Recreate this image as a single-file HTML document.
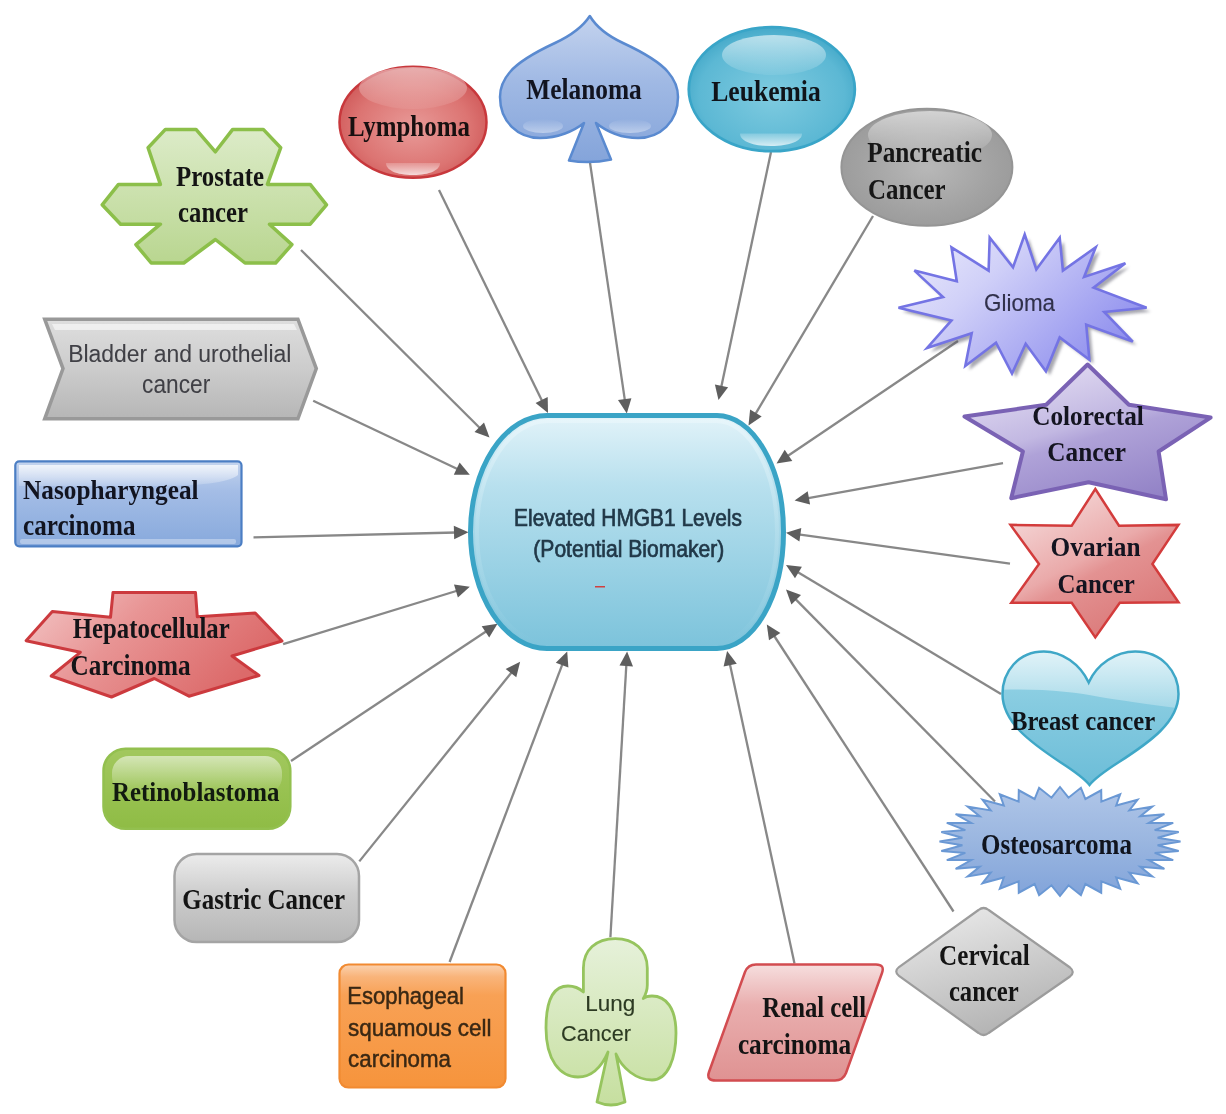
<!DOCTYPE html>
<html><head><meta charset="utf-8"><style>
html,body{margin:0;padding:0;background:#fff;}
svg{display:block;filter:blur(0.7px);}
</style></head><body>
<svg width="1226" height="1114" viewBox="0 0 1226 1114">
<defs><linearGradient id="gCenter" x1="0" y1="0" x2="0" y2="1"><stop offset="0" stop-color="#e2f3f9"/><stop offset="0.3" stop-color="#b8e0ee"/><stop offset="1" stop-color="#7cc3db"/></linearGradient>
<linearGradient id="gCRing" x1="0" y1="0" x2="0" y2="1"><stop offset="0" stop-color="#e8f6fb" stop-opacity="0.8"/><stop offset="0.5" stop-color="#c4e6f1" stop-opacity="0.35"/><stop offset="1" stop-color="#c4e6f1" stop-opacity="0.0"/></linearGradient>
<linearGradient id="gPros" x1="0" y1="0" x2="0" y2="1"><stop offset="0" stop-color="#dcebc8"/><stop offset="1" stop-color="#b9d690"/></linearGradient>
<radialGradient id="gLym" cx="0.5" cy="0.55" r="0.55"><stop offset="0" stop-color="#e89a98"/><stop offset="0.7" stop-color="#dc7472"/><stop offset="1" stop-color="#d05a5a"/></radialGradient>
<linearGradient id="gHiW" x1="0" y1="0" x2="0" y2="1"><stop offset="0" stop-color="#ffffff" stop-opacity="0.85"/><stop offset="1" stop-color="#ffffff" stop-opacity="0.1"/></linearGradient>
<linearGradient id="gLymB" x1="0" y1="0" x2="0" y2="1"><stop offset="0" stop-color="#ffffff" stop-opacity="0.2"/><stop offset="1" stop-color="#ffffff" stop-opacity="0.75"/></linearGradient>
<linearGradient id="gMel" x1="0" y1="0" x2="0" y2="1"><stop offset="0" stop-color="#c4d3ee"/><stop offset="0.45" stop-color="#a0b9e4"/><stop offset="1" stop-color="#84a4da"/></linearGradient>
<linearGradient id="gMelHi" x1="0" y1="0" x2="0" y2="1"><stop offset="0" stop-color="#ffffff" stop-opacity="0.0"/><stop offset="1" stop-color="#ffffff" stop-opacity="0.4"/></linearGradient>
<radialGradient id="gLeu" cx="0.5" cy="0.55" r="0.55"><stop offset="0" stop-color="#7fcbe0"/><stop offset="0.8" stop-color="#5cb8d4"/><stop offset="1" stop-color="#45a9c9"/></radialGradient>
<radialGradient id="gPan" cx="0.5" cy="0.5" r="0.55"><stop offset="0" stop-color="#b8b8b8"/><stop offset="0.7" stop-color="#a2a2a2"/><stop offset="1" stop-color="#9a9a9a"/></radialGradient>
<linearGradient id="gPanHi" x1="0" y1="0" x2="0" y2="1"><stop offset="0" stop-color="#ffffff" stop-opacity="0.55"/><stop offset="1" stop-color="#ffffff" stop-opacity="0"/></linearGradient>
<linearGradient id="gGli" x1="0" y1="0" x2="1" y2="0.6"><stop offset="0" stop-color="#eeeefc"/><stop offset="0.4" stop-color="#d0d0f8"/><stop offset="1" stop-color="#9090ee"/></linearGradient>
<filter id="fSh" x="-10%" y="-10%" width="120%" height="120%"><feGaussianBlur stdDeviation="1.6"/></filter>
<linearGradient id="gCol" x1="0.2" y1="0" x2="0.75" y2="1"><stop offset="0" stop-color="#e6e0f4"/><stop offset="0.45" stop-color="#c2b8e2"/><stop offset="0.55" stop-color="#afa2d8"/><stop offset="1" stop-color="#9282c6"/></linearGradient>
<linearGradient id="gOva" x1="0.2" y1="0" x2="0.8" y2="1"><stop offset="0" stop-color="#f6dcdc"/><stop offset="0.45" stop-color="#eaaaaa"/><stop offset="0.55" stop-color="#e39292"/><stop offset="1" stop-color="#d97474"/></linearGradient>
<linearGradient id="gBre" x1="0" y1="0" x2="0" y2="1"><stop offset="0" stop-color="#9ad6e8"/><stop offset="0.4" stop-color="#86cbe0"/><stop offset="1" stop-color="#6cbdd8"/></linearGradient>
<clipPath id="cHeart"><path d="M1088.7,682.5 C1080,664 1062,651.5 1043.8,651.5 C1018,651.5 1002.5,672 1002.5,694 C1002.5,722 1030,742 1060,762 C1074,771 1084,778 1089.5,785 C1095,778 1105,771 1119,762 C1150,742 1178.5,722 1178.5,694 C1178.5,672 1162,651.5 1135.2,651.5 C1116,651.5 1097,664 1088.7,682.5 Z"/></clipPath>
<linearGradient id="gBreHi" x1="0" y1="0" x2="0" y2="1"><stop offset="0" stop-color="#ffffff" stop-opacity="0.75"/><stop offset="1" stop-color="#ffffff" stop-opacity="0.25"/></linearGradient>
<linearGradient id="gOst" x1="0" y1="0" x2="0" y2="1"><stop offset="0" stop-color="#b0c6e8"/><stop offset="0.5" stop-color="#9ab6e0"/><stop offset="1" stop-color="#82a4da"/></linearGradient>
<linearGradient id="gCer" x1="0.3" y1="0" x2="0.7" y2="1"><stop offset="0" stop-color="#e8e8e8"/><stop offset="1" stop-color="#b0b0b0"/></linearGradient>
<linearGradient id="gRen" x1="0" y1="0" x2="0" y2="1"><stop offset="0" stop-color="#f6dede"/><stop offset="0.35" stop-color="#e9aeae"/><stop offset="1" stop-color="#df9292"/></linearGradient>
<linearGradient id="gLun" x1="0" y1="0" x2="0" y2="1"><stop offset="0" stop-color="#e6f1da"/><stop offset="1" stop-color="#c6df9f"/></linearGradient>
<linearGradient id="gEso" x1="0" y1="0" x2="0" y2="1"><stop offset="0" stop-color="#fbd2b0"/><stop offset="0.1" stop-color="#f9b47a"/><stop offset="0.25" stop-color="#f8a155"/><stop offset="1" stop-color="#f6943c"/></linearGradient>
<linearGradient id="gGas" x1="0" y1="0" x2="0" y2="1"><stop offset="0" stop-color="#ececec"/><stop offset="0.45" stop-color="#cdcdcd"/><stop offset="1" stop-color="#b6b6b6"/></linearGradient>
<linearGradient id="gRet" x1="0" y1="0" x2="0" y2="1"><stop offset="0" stop-color="#a2c85e"/><stop offset="1" stop-color="#8fbc45"/></linearGradient>
<linearGradient id="gRetHi" x1="0" y1="0" x2="0" y2="1"><stop offset="0" stop-color="#ffffff" stop-opacity="0.55"/><stop offset="1" stop-color="#ffffff" stop-opacity="0.0"/></linearGradient>
<linearGradient id="gHep" x1="0" y1="0" x2="1" y2="0.4"><stop offset="0" stop-color="#f3c8c8"/><stop offset="0.45" stop-color="#e89494"/><stop offset="1" stop-color="#dc6a6a"/></linearGradient>
<linearGradient id="gNas" x1="0" y1="0" x2="0" y2="1"><stop offset="0" stop-color="#c4d4ee"/><stop offset="0.35" stop-color="#a4bde6"/><stop offset="1" stop-color="#87a9dc"/></linearGradient>
<linearGradient id="gNasHi" x1="0" y1="0" x2="0" y2="1"><stop offset="0" stop-color="#ffffff" stop-opacity="0.75"/><stop offset="1" stop-color="#ffffff" stop-opacity="0.15"/></linearGradient>
<linearGradient id="gBla" x1="0" y1="0" x2="0" y2="1"><stop offset="0" stop-color="#dedede"/><stop offset="0.5" stop-color="#cccccc"/><stop offset="1" stop-color="#b6b6b6"/></linearGradient></defs>
<rect width="1226" height="1114" fill="#ffffff"/>
<line x1="301.0" y1="250.0" x2="480.6" y2="428.7" stroke="#888888" stroke-width="2.3"/>
<polygon points="489.5,437.5 474.5,432.1 484.0,422.5" fill="#5e5e5e"/>
<line x1="439.0" y1="190.0" x2="542.5" y2="401.8" stroke="#888888" stroke-width="2.3"/>
<polygon points="548.0,413.0 535.6,402.9 547.7,397.0" fill="#5e5e5e"/>
<line x1="589.6" y1="160.0" x2="625.0" y2="401.1" stroke="#888888" stroke-width="2.3"/>
<polygon points="626.8,413.5 618.0,400.1 631.4,398.2" fill="#5e5e5e"/>
<line x1="771.0" y1="152.0" x2="721.1" y2="387.8" stroke="#888888" stroke-width="2.3"/>
<polygon points="718.5,400.0 714.9,384.4 728.1,387.2" fill="#5e5e5e"/>
<line x1="873.0" y1="216.0" x2="754.9" y2="414.8" stroke="#888888" stroke-width="2.3"/>
<polygon points="748.5,425.5 750.1,409.6 761.7,416.5" fill="#5e5e5e"/>
<line x1="958.0" y1="341.0" x2="786.9" y2="456.5" stroke="#888888" stroke-width="2.3"/>
<polygon points="776.5,463.5 784.7,449.8 792.3,461.0" fill="#5e5e5e"/>
<line x1="1003.0" y1="463.2" x2="806.9" y2="498.3" stroke="#888888" stroke-width="2.3"/>
<polygon points="794.6,500.5 807.7,491.3 810.1,504.6" fill="#5e5e5e"/>
<line x1="1010.0" y1="563.7" x2="798.4" y2="534.4" stroke="#888888" stroke-width="2.3"/>
<polygon points="786.0,532.7 801.3,528.0 799.4,541.4" fill="#5e5e5e"/>
<line x1="1001.0" y1="694.0" x2="796.7" y2="571.4" stroke="#888888" stroke-width="2.3"/>
<polygon points="786.0,565.0 801.9,566.7 795.0,578.2" fill="#5e5e5e"/>
<line x1="995.0" y1="801.5" x2="794.8" y2="598.4" stroke="#888888" stroke-width="2.3"/>
<polygon points="786.0,589.5 801.0,595.1 791.4,604.6" fill="#5e5e5e"/>
<line x1="953.5" y1="911.5" x2="773.6" y2="635.0" stroke="#888888" stroke-width="2.3"/>
<polygon points="766.8,624.5 780.4,633.0 769.0,640.3" fill="#5e5e5e"/>
<line x1="794.5" y1="963.6" x2="729.7" y2="663.2" stroke="#888888" stroke-width="2.3"/>
<polygon points="727.1,651.0 736.8,663.8 723.6,666.6" fill="#5e5e5e"/>
<line x1="610.4" y1="937.2" x2="626.4" y2="664.0" stroke="#888888" stroke-width="2.3"/>
<polygon points="627.1,651.5 633.0,666.4 619.5,665.6" fill="#5e5e5e"/>
<line x1="449.6" y1="962.0" x2="562.8" y2="663.2" stroke="#888888" stroke-width="2.3"/>
<polygon points="567.2,651.5 568.4,667.5 555.8,662.7" fill="#5e5e5e"/>
<line x1="359.3" y1="861.4" x2="512.3" y2="671.5" stroke="#888888" stroke-width="2.3"/>
<polygon points="520.1,661.8 516.3,677.3 505.7,668.9" fill="#5e5e5e"/>
<line x1="291.0" y1="761.0" x2="487.1" y2="630.7" stroke="#888888" stroke-width="2.3"/>
<polygon points="497.5,623.8 489.2,637.4 481.7,626.2" fill="#5e5e5e"/>
<line x1="283.1" y1="644.2" x2="457.9" y2="590.5" stroke="#888888" stroke-width="2.3"/>
<polygon points="469.8,586.8 457.9,597.5 454.0,584.6" fill="#5e5e5e"/>
<line x1="253.5" y1="537.4" x2="456.0" y2="532.5" stroke="#888888" stroke-width="2.3"/>
<polygon points="468.5,532.2 454.2,539.3 453.8,525.8" fill="#5e5e5e"/>
<line x1="313.2" y1="400.7" x2="458.5" y2="469.5" stroke="#888888" stroke-width="2.3"/>
<polygon points="469.8,474.8 453.8,474.7 459.6,462.5" fill="#5e5e5e"/>
<path d="M547,415.5 L717,415.5 A66.5,116.5 0 0 1 717,648.5 L547,648.5 A76.5,116.5 0 0 1 547,415.5 Z" fill="url(#gCenter)" stroke="#3aa4c6" stroke-width="5"/>
<path d="M548,421 L716,421 A61,111 0 0 1 716,643 L548,643 A71,111 0 0 1 548,421 Z" fill="none" stroke="url(#gCRing)" stroke-width="4"/>
<text x="514.1" y="526.2" style="font-family:'Liberation Sans', sans-serif;font-weight:normal;font-size:23.69px" fill="#213848" stroke="#213848" stroke-width="0.7" textLength="227.8" lengthAdjust="spacingAndGlyphs">Elevated HMGB1 Levels</text>
<text x="533.3" y="556.7" style="font-family:'Liberation Sans', sans-serif;font-weight:normal;font-size:23.69px" fill="#213848" stroke="#213848" stroke-width="0.7" textLength="191.1" lengthAdjust="spacingAndGlyphs">(Potential Biomaker)</text>
<rect x="595" y="586" width="10" height="1.5" fill="#d04040"/>
<polygon points="165.4,129.4 196.0,129.4 215.4,151.8 232.7,129.4 263.3,129.4 280.7,147.7 267.4,184.4 310.2,184.4 326.5,204.8 310.2,224.2 269.4,224.2 291.9,244.6 275.6,263.0 245.0,263.0 215.4,239.5 183.8,263.0 151.2,263.0 135.9,244.6 160.4,224.2 120.6,224.2 102.2,204.8 118.5,184.4 160.4,184.4 148.1,147.7" fill="url(#gPros)" stroke="#8cbf4a" stroke-width="3.5" stroke-linejoin="round"/>
<text x="176.0" y="185.5" style="font-family:'Liberation Serif', serif;font-weight:bold;font-size:29.77px" fill="#141414" stroke="#141414" stroke-width="0.0" textLength="88.0" lengthAdjust="spacingAndGlyphs">Prostate</text>
<text x="178.1" y="222.0" style="font-family:'Liberation Serif', serif;font-weight:bold;font-size:29.59px" fill="#141414" stroke="#141414" stroke-width="0.0" textLength="69.9" lengthAdjust="spacingAndGlyphs">cancer</text>
<ellipse cx="413" cy="122.2" rx="73.5" ry="55.5" fill="url(#gLym)" stroke="#c8383c" stroke-width="2.5"/>
<ellipse cx="413" cy="88" rx="54" ry="21" fill="url(#gHiW)" opacity="0.6"/>
<path d="M386,163 L440,163 C440,170 430,175 413,175 C396,175 386,170 386,163 Z" fill="url(#gLymB)"/>
<text x="348.0" y="135.6" style="font-family:'Liberation Serif', serif;font-weight:bold;font-size:29.31px" fill="#181010" stroke="#181010" stroke-width="0.0" textLength="121.9" lengthAdjust="spacingAndGlyphs">Lymphoma</text>
<path d="M589.8,16 C582,28 570,36 555,43 C540,50 520,60 510,72 C503,80 500,88 500,97 C500,122 518,138 540,138 C558,138 574,131 584,123 L569,160.5 Q590,164 611,159.5 L596,123 C606,131 620,138 638,138 C660,138 678,122 678,97 C678,88 675,80 668,72 C658,60 638,50 623,43 C608,36 597,28 589.8,16 Z" fill="url(#gMel)" stroke="#5a8ad0" stroke-width="2.5" stroke-linejoin="round"/>
<ellipse cx="543" cy="126" rx="20" ry="7" fill="url(#gMelHi)"/>
<ellipse cx="630" cy="126" rx="21" ry="7" fill="url(#gMelHi)"/>
<text x="526.2" y="98.9" style="font-family:'Liberation Serif', serif;font-weight:bold;font-size:28.70px" fill="#121420" stroke="#121420" stroke-width="0.0" textLength="115.6" lengthAdjust="spacingAndGlyphs">Melanoma</text>
<ellipse cx="771.8" cy="89.2" rx="83" ry="62" fill="url(#gLeu)" stroke="#39a5c8" stroke-width="2.8"/>
<ellipse cx="774" cy="55" rx="52" ry="20" fill="url(#gHiW)" opacity="0.7"/>
<path d="M740,133.5 L802,133.5 C802,141 790,146 771,146 C752,146 740,141 740,133.5 Z" fill="url(#gLymB)"/>
<text x="711.2" y="101.0" style="font-family:'Liberation Serif', serif;font-weight:bold;font-size:28.70px" fill="#10141a" stroke="#10141a" stroke-width="0.0" textLength="109.6" lengthAdjust="spacingAndGlyphs">Leukemia</text>
<ellipse cx="926.9" cy="167.2" rx="85.5" ry="58.5" fill="url(#gPan)" stroke="#959595" stroke-width="2"/>
<ellipse cx="930" cy="135" rx="62" ry="24" fill="url(#gPanHi)"/>
<text x="867.2" y="162.0" style="font-family:'Liberation Serif', serif;font-weight:bold;font-size:28.70px" fill="#161616" stroke="#161616" stroke-width="0.0" textLength="114.7" lengthAdjust="spacingAndGlyphs">Pancreatic</text>
<text x="868.1" y="198.5" style="font-family:'Liberation Serif', serif;font-weight:bold;font-size:28.70px" fill="#161616" stroke="#161616" stroke-width="0.0" textLength="77.5" lengthAdjust="spacingAndGlyphs">Cancer</text>
<polygon points="1024.7,234.5 1036.3,269.5 1059.7,237.7 1062.9,270.6 1095.7,247.3 1084.1,277.0 1125.4,263.2 1093.6,287.6 1146.6,307.7 1104.2,312.0 1132.8,341.6 1086.2,324.7 1089.4,359.7 1059.7,337.4 1045.9,371.3 1025.7,343.8 1012.0,373.5 996.0,342.7 965.3,366.0 971.7,333.2 927.1,348.0 951.5,320.4 898.5,307.7 943.0,297.1 914.4,270.6 956.8,281.2 951.5,247.3 988.6,270.6 989.7,237.7 1013.0,267.4" fill="#505060" opacity="0.5" transform="translate(4,4)" filter="url(#fSh)"/>
<polygon points="1024.7,234.5 1036.3,269.5 1059.7,237.7 1062.9,270.6 1095.7,247.3 1084.1,277.0 1125.4,263.2 1093.6,287.6 1146.6,307.7 1104.2,312.0 1132.8,341.6 1086.2,324.7 1089.4,359.7 1059.7,337.4 1045.9,371.3 1025.7,343.8 1012.0,373.5 996.0,342.7 965.3,366.0 971.7,333.2 927.1,348.0 951.5,320.4 898.5,307.7 943.0,297.1 914.4,270.6 956.8,281.2 951.5,247.3 988.6,270.6 989.7,237.7 1013.0,267.4" fill="url(#gGli)" stroke="#7474e4" stroke-width="2.6" stroke-linejoin="miter"/>
<text x="984.1" y="310.9" style="font-family:'Liberation Sans', sans-serif;font-weight:normal;font-size:24.71px" fill="#30304a" stroke="#30304a" stroke-width="0.15" textLength="70.9" lengthAdjust="spacingAndGlyphs">Glioma</text>
<polygon points="1087.6,364.5 1128.9,404.8 1210.6,417.6 1158.6,451.5 1166.0,499.2 1088.6,482.3 1011.2,498.2 1022.9,451.5 964.5,416.5 1046.2,404.8" fill="url(#gCol)" stroke="#7a62b4" stroke-width="4" stroke-linejoin="round"/>
<text x="1032.2" y="424.6" style="font-family:'Liberation Serif', serif;font-weight:bold;font-size:28.24px" fill="#141420" stroke="#141420" stroke-width="0.0" textLength="111.7" lengthAdjust="spacingAndGlyphs">Colorectal</text>
<text x="1047.3" y="461.0" style="font-family:'Liberation Serif', serif;font-weight:bold;font-size:28.24px" fill="#141420" stroke="#141420" stroke-width="0.0" textLength="78.6" lengthAdjust="spacingAndGlyphs">Cancer</text>
<polygon points="1095.3,489.0 1119.0,525.7 1178.5,524.9 1152.4,564.0 1178.5,602.3 1119.8,602.7 1095.3,637.4 1071.7,602.7 1011.3,602.7 1039.0,564.0 1010.5,524.9 1071.7,525.7" fill="url(#gOva)" stroke="#d33c3c" stroke-width="2.5" stroke-linejoin="miter"/>
<text x="1050.6" y="555.9" style="font-family:'Liberation Serif', serif;font-weight:bold;font-size:27.94px" fill="#141420" stroke="#141420" stroke-width="0.0" textLength="89.9" lengthAdjust="spacingAndGlyphs">Ovarian</text>
<text x="1057.5" y="593.4" style="font-family:'Liberation Serif', serif;font-weight:bold;font-size:27.94px" fill="#141420" stroke="#141420" stroke-width="0.0" textLength="77.4" lengthAdjust="spacingAndGlyphs">Cancer</text>
<path d="M1088.7,682.5 C1080,664 1062,651.5 1043.8,651.5 C1018,651.5 1002.5,672 1002.5,694 C1002.5,722 1030,742 1060,762 C1074,771 1084,778 1089.5,785 C1095,778 1105,771 1119,762 C1150,742 1178.5,722 1178.5,694 C1178.5,672 1162,651.5 1135.2,651.5 C1116,651.5 1097,664 1088.7,682.5 Z" fill="url(#gBre)"/>
<path d="M995,645 L1185,645 L1185,709 C1150,705 1120,700 1100,697 C1075,692 1040,688 995,690 Z" fill="url(#gBreHi)" clip-path="url(#cHeart)"/>
<path d="M1088.7,682.5 C1080,664 1062,651.5 1043.8,651.5 C1018,651.5 1002.5,672 1002.5,694 C1002.5,722 1030,742 1060,762 C1074,771 1084,778 1089.5,785 C1095,778 1105,771 1119,762 C1150,742 1178.5,722 1178.5,694 C1178.5,672 1162,651.5 1135.2,651.5 C1116,651.5 1097,664 1088.7,682.5 Z" fill="none" stroke="#3fa7c7" stroke-width="2.5"/>
<text x="1011.0" y="729.7" style="font-family:'Liberation Serif', serif;font-weight:bold;font-size:27.94px" fill="#10141a" stroke="#10141a" stroke-width="0.0" textLength="144.1" lengthAdjust="spacingAndGlyphs">Breast cancer</text>
<polygon points="1060.0,787.0 1068.5,797.7 1080.9,787.8 1085.4,799.0 1101.2,790.3 1101.4,801.6 1120.2,794.3 1116.2,805.5 1137.5,799.8 1129.3,810.4 1152.3,806.5 1140.3,816.3 1164.4,814.2 1148.8,822.9 1173.2,822.9 1154.7,830.1 1178.7,832.0 1157.6,837.7 1180.5,841.5 1157.6,845.3 1178.7,851.0 1154.7,852.9 1173.2,860.1 1148.8,860.1 1164.4,868.8 1140.3,866.7 1152.3,876.5 1129.3,872.6 1137.5,883.2 1116.2,877.5 1120.2,888.7 1101.4,881.4 1101.2,892.7 1085.4,884.0 1080.9,895.2 1068.5,885.3 1060.0,896.0 1051.5,885.3 1039.1,895.2 1034.6,884.0 1018.8,892.7 1018.6,881.4 999.8,888.7 1003.8,877.5 982.5,883.2 990.7,872.6 967.7,876.5 979.7,866.7 955.6,868.8 971.2,860.1 946.8,860.1 965.3,852.9 941.3,851.0 962.4,845.3 939.5,841.5 962.4,837.7 941.3,832.0 965.3,830.1 946.8,822.9 971.2,822.9 955.6,814.2 979.7,816.3 967.7,806.5 990.7,810.4 982.5,799.8 1003.8,805.5 999.8,794.3 1018.6,801.6 1018.8,790.3 1034.6,799.0 1039.1,787.8 1051.5,797.7" fill="url(#gOst)" stroke="#6a98d4" stroke-width="2" stroke-linejoin="miter"/>
<text x="981.1" y="854.2" style="font-family:'Liberation Serif', serif;font-weight:bold;font-size:28.70px" fill="#10141e" stroke="#10141e" stroke-width="0.0" textLength="150.8" lengthAdjust="spacingAndGlyphs">Osteosarcoma</text>
<path d="M978.5,910 Q983.6,906 988.7,910 L1070,967.5 Q1075.5,972 1070,976.5 L988.7,1033 Q983.6,1037 978.5,1033 L899,976 Q893.5,971.5 899,967 Z" fill="url(#gCer)" stroke="#9c9c9c" stroke-width="2.2"/>
<text x="939.1" y="964.5" style="font-family:'Liberation Serif', serif;font-weight:bold;font-size:28.70px" fill="#141414" stroke="#141414" stroke-width="0.0" textLength="90.7" lengthAdjust="spacingAndGlyphs">Cervical</text>
<text x="948.9" y="1001.3" style="font-family:'Liberation Serif', serif;font-weight:bold;font-size:30.22px" fill="#141414" stroke="#141414" stroke-width="0.0" textLength="69.9" lengthAdjust="spacingAndGlyphs">cancer</text>
<path d="M756,964.5 L876,964.5 Q885,964.5 882,973 L846,1073 Q843,1080.5 835,1080.5 L716,1080.5 Q706,1080.5 709,1072 L745,972 Q748,964.5 756,964.5 Z" fill="url(#gRen)" stroke="#d24c50" stroke-width="2.5"/>
<text x="762.3" y="1016.9" style="font-family:'Liberation Serif', serif;font-weight:bold;font-size:29.01px" fill="#141414" stroke="#141414" stroke-width="0.0" textLength="103.8" lengthAdjust="spacingAndGlyphs">Renal cell</text>
<text x="737.9" y="1053.6" style="font-family:'Liberation Serif', serif;font-weight:bold;font-size:29.59px" fill="#141414" stroke="#141414" stroke-width="0.0" textLength="113.3" lengthAdjust="spacingAndGlyphs">carcinoma</text>
<path d="M583.4,992 C578,987 574,986 568,986 C554,986 546,1000 546,1028 C546,1060 560,1077 578,1077 C592,1077 602,1066 608,1052 L597,1102 Q611,1108 625,1102 L616,1054 C622,1068 636,1080 652,1080 C668,1080 676,1058 676,1033 C676,1008 666,996 652,996 C648,996 645,997 643.3,998.5 C646,994 647.3,990 647.3,985 L647.3,968 C647.3,950 634,938.6 615.3,938.6 C596,938.6 583.4,950 583.4,968 L583.4,992 Z" fill="url(#gLun)" stroke="#96c45e" stroke-width="2.8" stroke-linejoin="round"/>
<text x="585.2" y="1010.5" style="font-family:'Liberation Sans', sans-serif;font-weight:normal;font-size:22.09px" fill="#2c3a22" stroke="#2c3a22" stroke-width="0.15" textLength="50.0" lengthAdjust="spacingAndGlyphs">Lung</text>
<text x="561.1" y="1041.0" style="font-family:'Liberation Sans', sans-serif;font-weight:normal;font-size:22.67px" fill="#2c3a22" stroke="#2c3a22" stroke-width="0.15" textLength="69.9" lengthAdjust="spacingAndGlyphs">Cancer</text>
<rect x="339.5" y="964.5" width="166" height="123" rx="9" fill="url(#gEso)" stroke="#f18a31" stroke-width="2.2"/>
<text x="347.2" y="1004.2" style="font-family:'Liberation Sans', sans-serif;font-weight:normal;font-size:24.71px" fill="#3a2814" stroke="#3a2814" stroke-width="0.5" textLength="116.7" lengthAdjust="spacingAndGlyphs">Esophageal</text>
<text x="348.1" y="1035.5" style="font-family:'Liberation Sans', sans-serif;font-weight:normal;font-size:24.71px" fill="#3a2814" stroke="#3a2814" stroke-width="0.5" textLength="143.4" lengthAdjust="spacingAndGlyphs">squamous cell</text>
<text x="348.1" y="1067.0" style="font-family:'Liberation Sans', sans-serif;font-weight:normal;font-size:24.71px" fill="#3a2814" stroke="#3a2814" stroke-width="0.5" textLength="102.9" lengthAdjust="spacingAndGlyphs">carcinoma</text>
<rect x="174.5" y="854" width="184.5" height="88" rx="22" fill="url(#gGas)" stroke="#a4a4a4" stroke-width="2.5"/>
<text x="182.3" y="909.4" style="font-family:'Liberation Serif', serif;font-weight:bold;font-size:29.01px" fill="#141414" stroke="#141414" stroke-width="0.0" textLength="162.7" lengthAdjust="spacingAndGlyphs">Gastric Cancer</text>
<rect x="103.5" y="748.8" width="186.8" height="80" rx="22" fill="url(#gRet)" stroke="#93c04f" stroke-width="2.5"/>
<rect x="112" y="756" width="170" height="38" rx="17" fill="url(#gRetHi)"/>
<text x="112.0" y="800.8" style="font-family:'Liberation Serif', serif;font-weight:bold;font-size:28.09px" fill="#121a10" stroke="#121a10" stroke-width="0.0" textLength="167.4" lengthAdjust="spacingAndGlyphs">Retinoblastoma</text>
<polygon points="113.0,592.5 195.5,592.5 197.3,616.8 255.2,613.0 282.0,641.0 232.0,656.0 259.0,675.5 189.0,696.2 154.3,678.5 111.5,697.0 51.2,676.0 80.3,652.3 26.1,640.7 52.3,611.5 110.5,617.3" fill="url(#gHep)" stroke="#cc3a3e" stroke-width="3" stroke-linejoin="round"/>
<text x="72.8" y="637.5" style="font-family:'Liberation Serif', serif;font-weight:bold;font-size:28.70px" fill="#141418" stroke="#141418" stroke-width="0.0" textLength="156.9" lengthAdjust="spacingAndGlyphs">Hepatocellular</text>
<text x="70.6" y="674.5" style="font-family:'Liberation Serif', serif;font-weight:bold;font-size:28.70px" fill="#141418" stroke="#141418" stroke-width="0.0" textLength="120.1" lengthAdjust="spacingAndGlyphs">Carcinoma</text>
<rect x="15.3" y="461.3" width="226.2" height="85" rx="4" fill="url(#gNas)" stroke="#4b7ec4" stroke-width="2.2"/>
<path d="M19,465 L238,465 L238,475 C228,483 200,486 150,486 L19,486 Z" fill="url(#gNasHi)"/>
<rect x="20" y="539" width="216" height="5" rx="2" fill="#ffffff" opacity="0.35"/>
<text x="23.1" y="498.5" style="font-family:'Liberation Serif', serif;font-weight:bold;font-size:28.24px" fill="#121420" stroke="#121420" stroke-width="0.0" textLength="175.5" lengthAdjust="spacingAndGlyphs">Nasopharyngeal</text>
<text x="23.1" y="534.6" style="font-family:'Liberation Serif', serif;font-weight:bold;font-size:28.74px" fill="#121420" stroke="#121420" stroke-width="0.0" textLength="112.4" lengthAdjust="spacingAndGlyphs">carcinoma</text>
<polygon points="44.7,319.2 297.9,319.2 316.3,368.6 297.9,418.8 44.7,418.8 63.0,368.6" fill="url(#gBla)" stroke="#999" stroke-width="3.5"/>
<path d="M52,324 L294,324 L297,330 L55,330 Z" fill="#ffffff" opacity="0.55"/>
<text x="68.2" y="361.8" style="font-family:'Liberation Sans', sans-serif;font-weight:normal;font-size:24.42px" fill="#404046" stroke="#404046" stroke-width="0.05" textLength="223.2" lengthAdjust="spacingAndGlyphs">Bladder and urothelial</text>
<text x="142.1" y="393.1" style="font-family:'Liberation Sans', sans-serif;font-weight:normal;font-size:25.35px" fill="#404046" stroke="#404046" stroke-width="0.05" textLength="68.1" lengthAdjust="spacingAndGlyphs">cancer</text>
</svg>
</body></html>
